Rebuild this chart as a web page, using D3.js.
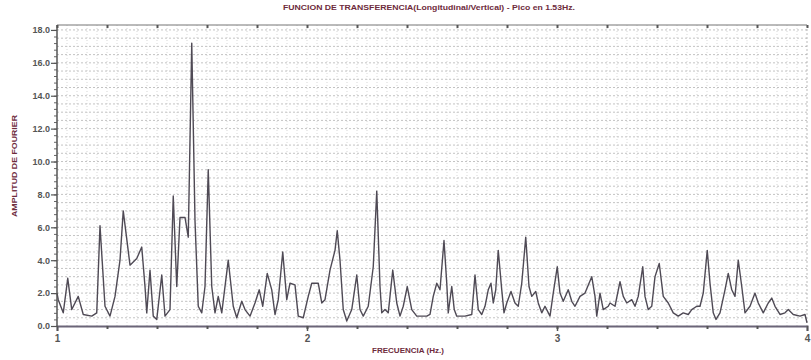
<!DOCTYPE html>
<html>
<head>
<meta charset="utf-8">
<script src="https://cdn.jsdelivr.net/npm/d3@7"></script>
<style>
  body { margin: 0; background: #fff; }
  svg { display: block; font-family: "Liberation Sans", Arial, sans-serif; }
</style>
</head>
<body>
<div id="chart"></div>
<script>
// transfer function
var freq = [
  1.000,1.005,1.025,1.043,1.059,1.085,1.105,1.139,1.159,1.172,1.192,1.212,1.232,1.252,1.265,1.292,1.319,1.339,1.352,1.359,
  1.372,1.385,1.399,1.419,1.432,1.452,1.465,1.479,1.492,1.512,1.525,1.539,1.552,1.565,1.579,1.592,1.605,1.619,1.632,1.645,
  1.659,1.685,1.705,1.719,1.739,1.752,1.772,1.792,1.809,1.823,1.841,1.859,1.872,1.885,1.903,1.919,1.932,1.952,1.965,1.985,
  2.005,2.019,2.045,2.059,2.072,2.092,2.112,2.121,2.132,2.145,2.159,2.179,2.199,2.212,2.225,2.245,2.265,2.279,2.292,2.299,
  2.312,2.325,2.343,2.359,2.372,2.385,2.401,2.419,2.439,2.479,2.492,2.505,2.519,2.532,2.548,2.559,2.565,2.579,2.589,2.599,
  2.632,2.659,2.672,2.685,2.699,2.712,2.725,2.736,2.745,2.755,2.765,2.779,2.788,2.799,2.816,2.832,2.845,2.859,2.875,2.888,
  2.899,2.915,2.925,2.939,2.952,2.972,2.985,3.001,3.012,3.025,3.045,3.059,3.072,3.092,3.112,3.139,3.152,3.159,3.172,3.185,
  3.205,3.212,3.232,3.252,3.265,3.279,3.299,3.312,3.325,3.343,3.352,3.365,3.379,3.392,3.409,3.425,3.445,3.465,3.485,3.505,
  3.525,3.539,3.559,3.572,3.585,3.601,3.612,3.625,3.636,3.652,3.672,3.685,3.699,3.712,3.725,3.739,3.752,3.772,3.792,3.805,
  3.825,3.845,3.859,3.872,3.892,3.912,3.925,3.945,3.972,3.992,4.000
];
var amp = [
  2.0,1.6,0.8,2.9,1.0,1.8,0.7,0.6,0.8,6.1,1.2,0.6,1.8,4.0,7.0,3.7,4.1,4.8,2.4,0.8,
  3.4,0.6,0.4,3.1,0.6,1.0,7.9,2.4,6.6,6.6,5.4,17.2,6.4,1.2,0.8,2.4,9.5,2.4,0.8,1.8,
  0.8,4.0,1.2,0.5,1.5,1.0,0.6,1.4,2.2,1.2,3.2,2.2,0.7,1.6,4.5,1.6,2.6,2.5,0.6,0.5,
  1.8,2.6,2.6,1.4,1.6,3.4,4.6,5.8,4.0,1.0,0.3,1.0,3.1,1.0,0.6,1.2,3.6,8.2,2.4,0.8,
  1.0,0.8,3.4,1.4,0.6,1.2,2.4,1.0,0.6,0.6,0.7,1.8,2.6,2.2,5.2,2.6,0.8,2.4,1.0,0.6,
  0.6,0.7,3.1,1.0,0.7,1.2,2.2,2.6,1.4,2.2,4.6,2.2,0.8,1.4,2.1,1.4,1.2,2.6,5.4,2.4,
  1.8,2.1,1.4,0.8,1.2,0.6,2.0,3.6,2.0,1.5,2.2,1.5,1.2,1.8,2.0,3.0,1.8,0.6,2.0,1.0,
  1.2,1.4,1.2,2.7,1.8,1.4,1.6,1.2,1.8,3.6,1.8,1.0,1.2,3.0,3.8,1.8,1.4,0.8,0.6,0.8,
  0.7,1.0,1.2,1.2,2.0,4.6,2.6,0.8,0.4,0.8,2.2,3.2,2.2,1.8,4.0,2.4,0.8,1.2,2.0,1.4,
  0.8,1.4,1.7,1.2,0.7,0.8,1.0,0.7,0.6,0.7,0.2
];
var yTicks = [0, 2, 4, 6, 8, 10, 12, 14, 16, 18];
var xTicks = [1, 2, 3, 4];

var titleText = "FUNCION DE TRANSFERENCIA(Longitudinal/Vertical) - Pico en 1.53Hz.";
var xTitle = "FRECUENCIA (Hz.)";
var yTitle = "AMPLITUD DE FOURIER";

function drawChart(selector) {
  var width = 811, height = 360;
  var mLeft = 57, mRight = 807, mTop = 25, mBottom = 326;

  var svg = d3.select(selector).append("svg")
      .attr("width", width)
      .attr("height", height);

  var x = d3.scaleLinear().domain([1, 4]).range([mLeft, mRight]);
  var y = d3.scaleLinear().domain([0, 18.3]).range([mBottom, mTop]);

  // dotted grid
  svg.append("g")
      .selectAll("line")
      .data(d3.range(0.5, 18.3, 0.5))
      .enter().append("line")
      .attr("x1", mLeft).attr("x2", mRight)
      .attr("y1", function(d) { return y(d); })
      .attr("y2", function(d) { return y(d); })
      .attr("stroke", "#b4b4b4")
      .attr("stroke-width", 0.8)
      .attr("stroke-dasharray", "2,2");

  svg.append("g")
      .selectAll("line")
      .data(d3.range(1.04, 4, 0.04))
      .enter().append("line")
      .attr("y1", mTop).attr("y2", mBottom)
      .attr("x1", function(d) { return x(d); })
      .attr("x2", function(d) { return x(d); })
      .attr("stroke", "#c6c6c6")
      .attr("stroke-width", 0.7)
      .attr("stroke-dasharray", "1,2");

  // top border with small ticks
  svg.append("line")
      .attr("x1", mLeft).attr("x2", mRight)
      .attr("y1", mTop).attr("y2", mTop)
      .attr("stroke", "#777").attr("stroke-width", 1.2);
  svg.append("line")
      .attr("x1", mRight).attr("x2", mRight)
      .attr("y1", mTop).attr("y2", mBottom)
      .attr("stroke", "#aaa").attr("stroke-width", 0.8)
      .attr("stroke-dasharray", "2,2");

  var topAxis = svg.append("g")
      .attr("transform", "translate(0," + mTop + ")")
      .call(d3.axisBottom(x).tickValues(d3.range(1, 4.01, 0.2)).tickSize(3).tickFormat(""));
  topAxis.select(".domain").remove();
  topAxis.selectAll("line").attr("stroke", "#555").attr("stroke-width", 2);

  // the series
  var line = d3.line()
      .x(function(d, i) { return x(freq[i]); })
      .y(function(d) { return y(d); });

  svg.append("path")
      .datum(amp)
      .attr("fill", "none")
      .attr("stroke", "#4f4a55")
      .attr("stroke-width", 1.4)
      .attr("stroke-linejoin", "round")
      .attr("d", line);

  // bottom axis
  var xAxis = svg.append("g")
      .attr("transform", "translate(0," + mBottom + ")")
      .call(d3.axisBottom(x).tickValues(xTicks).tickSize(5).tickFormat(d3.format("d")));
  xAxis.select(".domain").attr("stroke", "#6b6578").attr("stroke-width", 2);
  xAxis.selectAll("line").attr("stroke", "#555").attr("stroke-width", 1.5);
  xAxis.selectAll("text")
      .attr("y", 9)
      .attr("fill", "#555")
      .style("font-size", "10px")
      .style("font-weight", "bold");

  var xMinor = svg.append("g")
      .attr("transform", "translate(0," + mBottom + ")")
      .call(d3.axisBottom(x).tickValues(d3.range(1.2, 4, 0.2)).tickSize(3).tickFormat(""));
  xMinor.select(".domain").remove();
  xMinor.selectAll("line").attr("stroke", "#555").attr("stroke-width", 2);

  // left axis
  var yMinor = svg.append("g")
      .attr("transform", "translate(" + mLeft + ",0)")
      .call(d3.axisLeft(y).tickValues(d3.range(0.4, 18.3, 0.4)).tickSize(3).tickFormat(""));
  yMinor.select(".domain").remove();
  yMinor.selectAll("line").attr("stroke", "#666").attr("stroke-width", 1);

  var yAxis = svg.append("g")
      .attr("transform", "translate(" + mLeft + ",0)")
      .call(d3.axisLeft(y).tickValues(yTicks).tickSize(6).tickFormat(d3.format(".1f")));
  yAxis.select(".domain").attr("stroke", "#555").attr("stroke-width", 1.5)
      .attr("d", "M0," + mTop + "V" + mBottom);
  yAxis.selectAll("line").attr("stroke", "#555").attr("stroke-width", 1.2);
  yAxis.selectAll("text")
      .attr("x", -7)
      .attr("fill", "#555")
      .style("font-size", "9px")
      .style("font-weight", "bold");

  // titles
  svg.append("text")
      .attr("x", 429).attr("y", 10)
      .attr("text-anchor", "middle")
      .attr("textLength", 292)
      .attr("lengthAdjust", "spacingAndGlyphs")
      .attr("fill", "#6e2b3c")
      .style("font-size", "7px")
      .style("font-weight", "bold")
      .text(titleText);

  svg.append("text")
      .attr("x", 408).attr("y", 353)
      .attr("text-anchor", "middle")
      .attr("textLength", 72)
      .attr("lengthAdjust", "spacingAndGlyphs")
      .attr("fill", "#6e2b3c")
      .style("font-size", "7px")
      .style("font-weight", "bold")
      .text(xTitle);

  svg.append("text")
      .attr("transform", "translate(17,166) rotate(-90)")
      .attr("text-anchor", "middle")
      .attr("textLength", 102)
      .attr("lengthAdjust", "spacingAndGlyphs")
      .attr("fill", "#6e2b3c")
      .style("font-size", "7px")
      .style("font-weight", "bold")
      .text(yTitle);
}

drawChart("#chart");
</script>
</body>
</html>
